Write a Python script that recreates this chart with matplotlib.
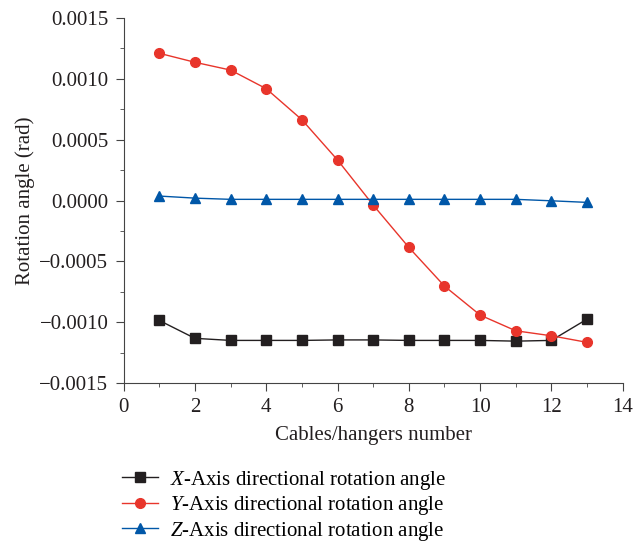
import numpy as np
import matplotlib
matplotlib.use("Agg")
import matplotlib.pyplot as plt
from matplotlib.ticker import MultipleLocator, FuncFormatter

plt.rcParams["font.family"] = ["Liberation Serif", "DejaVu Serif"]
plt.rcParams["mathtext.fontset"] = "custom"
plt.rcParams["mathtext.rm"] = "Liberation Serif"
plt.rcParams["mathtext.it"] = "Liberation Serif:italic"

# ------------------ DATA ------------------

cables = [1, 2, 3, 4, 5, 6, 7, 8, 9, 10, 11, 12, 13]
x_rot = [-0.000985, -0.001132, -0.001149, -0.001149, -0.001149, -0.001145, -0.001145,
         -0.001149, -0.001149, -0.001149, -0.001155, -0.001149, -0.000974]
y_rot = [0.001210, 0.001136, 0.001072, 0.000919, 0.000664, 0.000333, -0.000037,
         -0.000385, -0.000703, -0.000941, -0.001070, -0.001111, -0.001165]
z_rot = [0.000037, 0.000020, 0.000010, 0.000010, 0.000010, 0.000010, 0.000010,
         0.000010, 0.000010, 0.000010, 0.000010, -0.000002, -0.000015]

labels = ["$\\it{X}$-Axis directional rotation angle",
          "$\\it{Y}$-Axis directional rotation angle",
          "$\\it{Z}$-Axis directional rotation angle"]

# ------------------ PLOT ------------------

fig = plt.figure(figsize=(6.44, 5.45), dpi=100)
ax = fig.add_axes([0.192, 0.297, 0.775, 0.670])

ax.plot(cables, x_rot, color="#231f20", marker="s", markersize=7, lw=1, label=labels[0])
ax.plot(cables, y_rot, color="#e8352b", marker="o", markersize=7, lw=1, label=labels[1])
ax.plot(cables, z_rot, color="#0057a8", marker="^", markersize=7, lw=1, label=labels[2])

ax.set_xlim(0, 14)
ax.set_ylim(-0.0015, 0.0015)
ax.xaxis.set_major_locator(MultipleLocator(2))
ax.xaxis.set_minor_locator(MultipleLocator(1))
ax.yaxis.set_major_locator(MultipleLocator(0.0005))
ax.yaxis.set_minor_locator(MultipleLocator(0.00025))
ax.yaxis.set_major_formatter(FuncFormatter(lambda v, p: f"{v:.4f}".replace("-", "\u2212")))

for s in ["top", "right"]:
    ax.spines[s].set_visible(False)
for s in ["left", "bottom"]:
    ax.spines[s].set_color("#444444")
ax.tick_params(which="major", direction="out", length=6, color="#444444", labelsize=15,
               labelcolor="#231f20", pad=5)
ax.tick_params(which="minor", direction="out", length=3, color="#444444")

ax.set_xlabel("Cables/hangers number", fontsize=15, color="#231f20", labelpad=6)
ax.set_ylabel("Rotation angle (rad)", fontsize=15, color="#231f20", labelpad=3)

ax.legend(loc="upper left", bbox_to_anchor=(0.19, 0.14), bbox_transform=fig.transFigure,
          borderaxespad=0, borderpad=0, frameon=False, fontsize=15,
          handlelength=1.7, labelspacing=0.12, handletextpad=0.6)

fig.savefig("out.png", dpi=100)
